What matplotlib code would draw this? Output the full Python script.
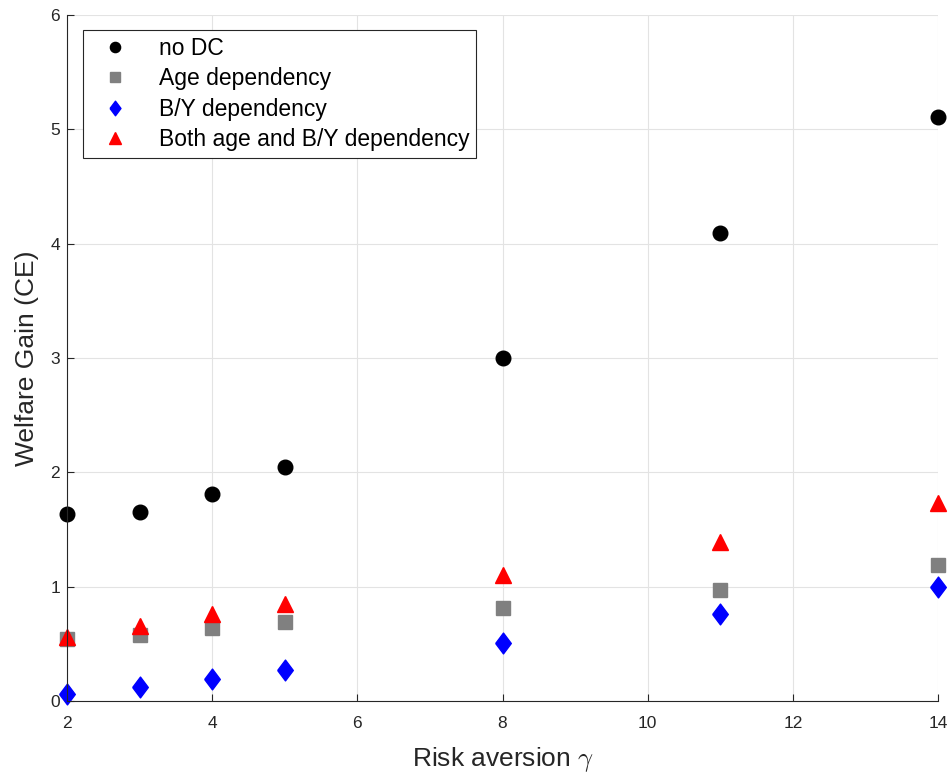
import matplotlib.pyplot as plt

plt.rcParams['font.family'] = ['Liberation Sans', 'DejaVu Sans']
plt.rcParams['mathtext.fontset'] = 'cm'

gamma = [2, 3, 4, 5, 8, 11, 14]
no_dc = [1.64, 1.65, 1.81, 2.05, 3.00, 4.09, 5.11]
age_dep = [0.54, 0.58, 0.64, 0.69, 0.81, 0.97, 1.19]
by_dep = [0.06, 0.12, 0.19, 0.27, 0.51, 0.76, 1.00]
both_dep = [0.56, 0.66, 0.76, 0.85, 1.10, 1.39, 1.73]

# MATLAB-like diamond (a bit narrower than tall)
diamond = [(-0.75, 0), (0, 1), (0.75, 0), (0, -1), (-0.75, 0)]

fig = plt.figure(figsize=(9.52, 7.74), dpi=100)
ax = fig.add_axes([0.0704, 0.0943, 0.9149, 0.8863])

ax.plot(gamma, no_dc, 'o', color='black', markersize=10.5, label='no DC', clip_on=False)
ax.plot(gamma, age_dep, 's', color='#808080', markersize=9.5, label='Age dependency', clip_on=False)
ax.plot(gamma, by_dep, marker=diamond, linestyle='none', color='blue', markersize=15,
        label='B/Y dependency', clip_on=False)
ax.plot(gamma, both_dep, '^', color='red', markersize=12, label='Both age and B/Y dependency',
        clip_on=False)

ax.set_xlim(2, 14)
ax.set_ylim(0, 6)
ax.set_xticks([2, 4, 6, 8, 10, 12, 14])
ax.set_yticks([0, 1, 2, 3, 4, 5, 6])
ax.grid(True, color='#e3e3e3', linewidth=0.8)
ax.set_axisbelow(True)
ax.tick_params(direction='in', labelsize=12.5, colors='#262626', length=5)
ax.tick_params(axis='x', pad=11)
ax.tick_params(axis='y', pad=5)
for side in ['top', 'right']:
    ax.spines[side].set_visible(False)
for side in ['left', 'bottom']:
    ax.spines[side].set_color('#262626')

ax.set_xlabel(r'Risk aversion $\gamma$', fontsize=19, color='#262626', labelpad=10)
ax.set_ylabel('Welfare Gain (CE)', fontsize=19, color='#262626', labelpad=8)

leg = ax.legend(loc='upper left', bbox_to_anchor=(0.0184, 0.978), borderaxespad=0,
                fontsize=16.5, markerscale=0.7, fancybox=False, framealpha=1,
                edgecolor='#262626', handletextpad=0.8, borderpad=0.3,
                labelspacing=0.32, handlelength=2.2)
leg.get_frame().set_linewidth(0.8)

fig.savefig('out.png', dpi=100)
